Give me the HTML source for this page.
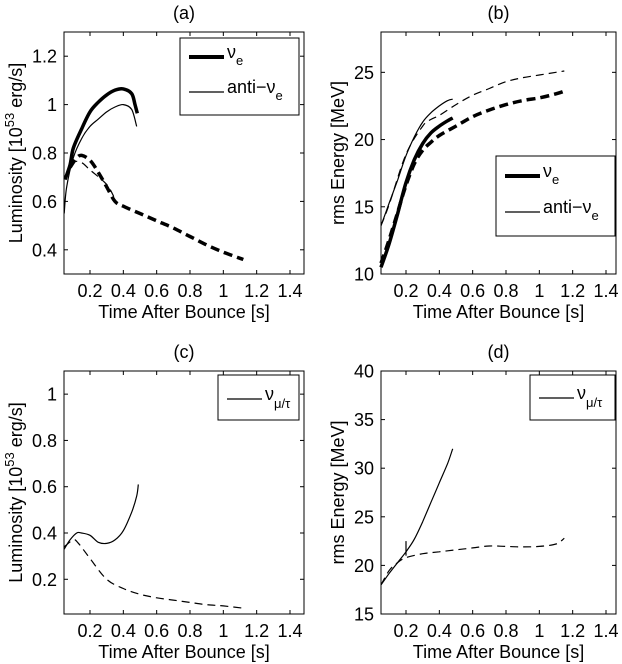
<!DOCTYPE html>
<html><head><meta charset="utf-8"><style>
body{margin:0;background:#fff}
svg{display:block;font-family:"Liberation Sans",sans-serif}
</style></head><body>
<svg id="fig" width="622" height="664" viewBox="0 0 622 664" xmlns="http://www.w3.org/2000/svg"></svg>
<script>
// ---- data ----
const aNueSolidX=[0.05,0.08,0.1,0.15,0.2,0.25,0.3,0.35,0.4,0.45,0.47,0.484];
const aNueSolidY=[0.69,0.75,0.82,0.90,0.97,1.01,1.04,1.06,1.065,1.045,1.0,0.964];
const aAntiSolidX=[0.045,0.06,0.1,0.15,0.2,0.25,0.3,0.35,0.4,0.45,0.48];
const aAntiSolidY=[0.55,0.66,0.78,0.86,0.91,0.94,0.97,0.99,1.0,0.98,0.91];
const aNueDashX=[0.08,0.12,0.15,0.2,0.25,0.3,0.35,0.4,0.5,0.6,0.7,0.8,0.9,1.0,1.1,1.12];
const aNueDashY=[0.74,0.78,0.79,0.77,0.72,0.66,0.60,0.58,0.55,0.52,0.49,0.455,0.42,0.39,0.365,0.36];
const aAntiDashX=[0.05,0.1,0.15,0.2,0.3,0.35];
const aAntiDashY=[0.70,0.76,0.76,0.73,0.67,0.61];

const bNueSolidX=[0.05,0.1,0.15,0.2,0.25,0.3,0.35,0.4,0.45,0.48];
const bNueSolidY=[10.5,12.3,14.5,16.8,18.5,19.7,20.5,21.0,21.4,21.6];
const bAntiSolidX=[0.05,0.1,0.15,0.2,0.25,0.3,0.35,0.4,0.45,0.48];
const bAntiSolidY=[13.6,15.3,17.0,18.8,20.2,21.3,22.0,22.5,22.9,23.0];
const bNueDashX=[0.05,0.1,0.15,0.2,0.25,0.3,0.35,0.4,0.5,0.6,0.7,0.8,0.9,1.0,1.1,1.15];
const bNueDashY=[10.8,12.6,14.6,16.6,18.2,19.2,19.8,20.3,21.0,21.7,22.2,22.6,22.9,23.1,23.4,23.6];
const bAntiDashX=[0.05,0.1,0.2,0.3,0.35,0.4,0.5,0.6,0.7,0.8,0.9,1.0,1.1,1.15];
const bAntiDashY=[13.6,15.2,18.9,21.0,21.5,21.8,22.6,23.3,23.8,24.3,24.6,24.8,25.0,25.1];

const cSolidX=[0.045,0.08,0.12,0.15,0.2,0.25,0.3,0.35,0.4,0.45,0.48,0.49];
const cSolidY=[0.33,0.37,0.40,0.40,0.39,0.36,0.355,0.37,0.41,0.49,0.56,0.61];
const cDashX=[0.045,0.1,0.13,0.2,0.3,0.4,0.5,0.6,0.7,0.8,0.9,1.0,1.12];
const cDashY=[0.34,0.37,0.356,0.29,0.20,0.16,0.135,0.12,0.11,0.10,0.09,0.085,0.075];

const dSolidX=[0.05,0.1,0.15,0.2,0.25,0.3,0.35,0.4,0.45,0.48];
const dSolidY=[18,19.2,20.3,21.4,22.7,24.5,26.5,28.5,30.5,32.0];
const dDashX=[0.05,0.1,0.15,0.2,0.3,0.4,0.5,0.6,0.7,0.8,0.9,1.0,1.1,1.15];
const dDashY=[18,19.5,20.3,20.8,21.2,21.4,21.6,21.8,22.0,21.95,21.9,21.95,22.2,22.8];

const xTicks=[0.2,0.4,0.6,0.8,1,1.2,1.4];
const xTickLabels=["0.2","0.4","0.6","0.8","1","1.2","1.4"];
const lumTicksA=[0.4,0.6,0.8,1,1.2];
const lumTicksC=[0.2,0.4,0.6,0.8,1];
const eTicksB=[10,15,20,25];
const eTicksD=[15,20,25,30,35,40];

const NS="http://www.w3.org/2000/svg";
const svg=document.getElementById('fig');
function mk(tag,attrs,parent){const e=document.createElementNS(NS,tag);for(const k in attrs)e.setAttribute(k,attrs[k]);(parent||svg).appendChild(e);return e;}
function smooth(pts){
  let d='M'+pts[0][0].toFixed(1)+','+pts[0][1].toFixed(1);
  for(let i=0;i<pts.length-1;i++){
    const p0=pts[Math.max(0,i-1)],p1=pts[i],p2=pts[i+1],p3=pts[Math.min(pts.length-1,i+2)];
    const c1=[p1[0]+(p2[0]-p0[0])/6,p1[1]+(p2[1]-p0[1])/6];
    const c2=[p2[0]-(p3[0]-p1[0])/6,p2[1]-(p3[1]-p1[1])/6];
    d+='C'+c1.map(v=>v.toFixed(1)).join(',')+' '+c2.map(v=>v.toFixed(1)).join(',')+' '+p2.map(v=>v.toFixed(1)).join(',');
  }
  return d;
}

function panel(p){
  const g=mk('g',{});
  
  
  const sx=v=>p.L+(v-p.x0)/(p.x1-p.x0)*(p.R-p.L);
  const sy=v=>p.B-(v-p.y0)/(p.y1-p.y0)*(p.B-p.T);
  const t=mk('text',{x:(p.L+p.R)/2,y:p.T-13,'font-size':18,'text-anchor':'middle'},g);
  t.textContent=p.title;
  
  
  const box=mk('rect',{x:p.L,y:p.T,width:p.R-p.L,height:p.B-p.T,fill:'none',stroke:'#000','stroke-width':1},g);
  
  
  xTicks.forEach((v,i)=>{
    const x=sx(v);
    mk('line',{x1:x,x2:x,y1:p.B,y2:p.B-4,stroke:'#000'},g);
    mk('line',{x1:x,x2:x,y1:p.T,y2:p.T+4,stroke:'#000'},g);
    const tl=mk('text',{x:x,y:p.B+23,'font-size':18,'text-anchor':'middle'},g);
    tl.textContent=xTickLabels[i];
    
    
  });
  p.yt.forEach(v=>{
    const y=sy(v);
    mk('line',{x1:p.L,x2:p.L+4,y1:y,y2:y,stroke:'#000'},g);
    mk('line',{x1:p.R,x2:p.R-4,y1:y,y2:y,stroke:'#000'},g);
    const tl=mk('text',{x:p.L-7,y:y+6.5,'font-size':18,'text-anchor':'end'},g);
    tl.textContent=String(v);
    
    
  });
  const xl=mk('text',{x:(p.L+p.R)/2,y:p.B+44,'font-size':18,'text-anchor':'middle'},g);
  xl.textContent='Time After Bounce [s]';
  
  
  const yl=mk('text',{x:0,y:0,'font-size':18,'text-anchor':'middle',transform:`translate(${p.ylx},${(p.T+p.B)/2}) rotate(-90)`},g);
  yl.innerHTML=p.ylab;
  
  
  p.series.forEach(s=>{
    const pts=s.x.map((v,i)=>[sx(v),sy(s.y[i])]);
    const path=mk('path',{d:smooth(pts),fill:'none',stroke:'#000','stroke-width':s.w,'stroke-dasharray':s.dash||'none','stroke-linejoin':'round'},g);
    
    
  });
  if(p.extra)p.extra(g,sx,sy);
  const lg=p.leg;
  const lb=mk('g',{},g);
  
  
  mk('rect',{x:lg.x,y:lg.y,width:lg.w,height:lg.h,fill:'#fff',stroke:'#000'},lb);
  lg.items.forEach(it=>{
    const ln=mk('line',{x1:lg.x+9,x2:lg.x+44,y1:it.y,y2:it.y,stroke:'#000','stroke-width':it.w},lb);
    
    
    const tx=mk('text',{x:lg.x+47,y:it.y+1,'font-size':18},lb);
    tx.innerHTML=it.html;
    
    
  });
}
const lumLab='Luminosity [10<tspan dy="-8" font-size="13">53</tspan><tspan dy="8"> erg/s]</tspan>';
const nue='ν<tspan dy="7" font-size="13">e</tspan>';
const anti='anti−ν<tspan dy="7" font-size="13">e</tspan>';
const numu='ν<tspan dy="8" font-size="13">μ/τ</tspan>';

panel({name:'panel-a',title:'(a)',L:64,R:304,T:32,B:274,x0:0.044,x1:1.484,y0:0.3,y1:1.3,yt:lumTicksA,ylx:22,ylab:lumLab,
 series:[{name:'nue-solid',x:aNueSolidX,y:aNueSolidY,w:3.5},{name:'anti-nue-solid',x:aAntiSolidX,y:aAntiSolidY,w:1.2},
 {name:'nue-dashed',x:aNueDashX,y:aNueDashY,w:3.5,dash:'9 5'},{name:'anti-nue-dashed',x:aAntiDashX,y:aAntiDashY,w:1.2,dash:'8 5'}],
 leg:{x:180,y:38,w:119,h:77,items:[{y:57,w:4,html:nue},{y:92,w:1.2,html:anti}]}});
panel({name:'panel-b',title:'(b)',L:381,R:616,T:32,B:274,x0:0.05,x1:1.46,y0:10,y1:28,yt:eTicksB,ylx:344,ylab:'rms Energy [MeV]',
 series:[{name:'nue-solid',x:bNueSolidX,y:bNueSolidY,w:3.5},{name:'anti-nue-solid',x:bAntiSolidX,y:bAntiSolidY,w:1.2},
 {name:'nue-dashed',x:bNueDashX,y:bNueDashY,w:3.5,dash:'9 5'},{name:'anti-nue-dashed',x:bAntiDashX,y:bAntiDashY,w:1.2,dash:'8 5'}],
 leg:{x:496,y:156,w:119,h:80,items:[{y:176,w:4,html:nue},{y:212,w:1.2,html:anti}]}});
panel({name:'panel-c',title:'(c)',L:64,R:304,T:371,B:614,x0:0.044,x1:1.484,y0:0.05,y1:1.1,yt:lumTicksC,ylx:22,ylab:lumLab,
 series:[{name:'numu-solid',x:cSolidX,y:cSolidY,w:1.2},{name:'numu-dashed',x:cDashX,y:cDashY,w:1.2,dash:'8 5'}],
 leg:{x:218,y:375,w:81,h:45,items:[{y:399,w:1.2,html:numu}]}});
panel({name:'panel-d',title:'(d)',L:381,R:616,T:371,B:614,x0:0.05,x1:1.46,y0:15,y1:40,yt:eTicksD,ylx:344,ylab:'rms Energy [MeV]',
 series:[{name:'numu-solid',x:dSolidX,y:dSolidY,w:1.2},{name:'numu-dashed',x:dDashX,y:dDashY,w:1.2,dash:'8 5'}],
 leg:{x:530,y:375,w:85,h:45,items:[{y:398,w:1.2,html:numu}]},
 extra:(g,sx,sy)=>{mk('line',{x1:sx(0.2),x2:sx(0.2),y1:sy(21),y2:sy(22.5),stroke:'#000','stroke-width':1.2},g);}});
</script>
</body></html>
